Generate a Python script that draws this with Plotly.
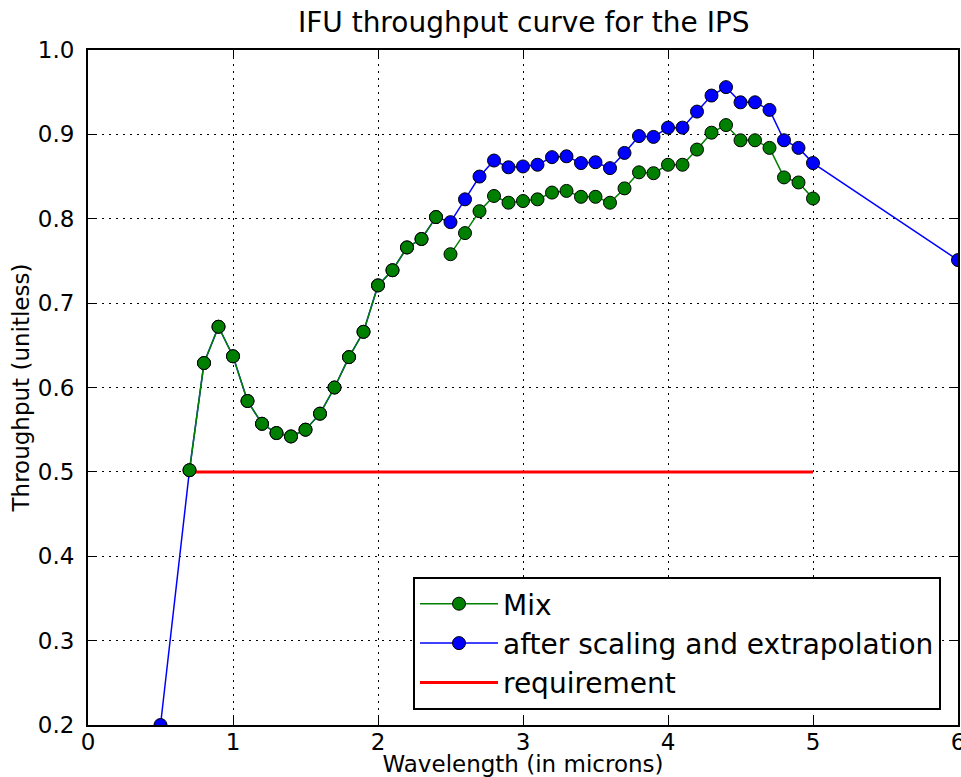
import plotly.graph_objects as go

# Mix (green): two segments separated by a gap
mix_x = [0.7, 0.8, 0.9, 1.0, 1.1, 1.2, 1.3, 1.4, 1.5, 1.6, 1.7, 1.8, 1.9, 2.0, 2.1, 2.2, 2.3, 2.4,
         None,
         2.5, 2.6, 2.7, 2.8, 2.9, 3.0, 3.1, 3.2, 3.3, 3.4, 3.5, 3.6, 3.7, 3.8, 3.9, 4.0,
         4.1, 4.2, 4.3, 4.4, 4.5, 4.6, 4.7, 4.8, 4.9, 5.0]
mix_y = [0.502, 0.629, 0.672, 0.637, 0.584, 0.557, 0.546, 0.542, 0.550, 0.569, 0.600, 0.636, 0.666,
         0.721, 0.739, 0.766, 0.776, 0.802,
         None,
         0.758, 0.783, 0.809, 0.827, 0.819, 0.821, 0.823, 0.831, 0.833, 0.826, 0.826, 0.819, 0.836,
         0.855, 0.854, 0.864, 0.864, 0.882, 0.902, 0.911, 0.893, 0.893, 0.884, 0.849, 0.843, 0.824]

# after scaling and extrapolation (blue)
ext_x = [0.5, 0.7, 0.8, 0.9, 1.0, 1.1, 1.2, 1.3, 1.4, 1.5, 1.6, 1.7, 1.8, 1.9, 2.0, 2.1, 2.2, 2.3, 2.4,
         2.5, 2.6, 2.7, 2.8, 2.9, 3.0, 3.1, 3.2, 3.3, 3.4, 3.5, 3.6, 3.7, 3.8, 3.9, 4.0,
         4.1, 4.2, 4.3, 4.4, 4.5, 4.6, 4.7, 4.8, 4.9, 5.0, 6.0]
ext_y = [0.200, 0.502, 0.629, 0.672, 0.637, 0.584, 0.557, 0.546, 0.542, 0.550, 0.569, 0.600, 0.636, 0.666,
         0.721, 0.739, 0.766, 0.776, 0.802,
         0.796, 0.823, 0.850, 0.869, 0.861, 0.862, 0.864, 0.873, 0.874, 0.866, 0.867, 0.860, 0.878,
         0.898, 0.897, 0.908, 0.908, 0.927, 0.946, 0.956, 0.938, 0.938, 0.929, 0.893, 0.884, 0.866, 0.751]

# requirement (red)
req_x = [0.7, 5.0]
req_y = [0.5, 0.5]

x_ticks = [0, 1, 2, 3, 4, 5, 6]
y_ticks = [0.2, 0.3, 0.4, 0.5, 0.6, 0.7, 0.8, 0.9, 1.0]

FONT = "DejaVu Sans"

fig = go.Figure()
fig.add_trace(go.Scatter(
    x=ext_x, y=ext_y, mode="lines+markers", name="after scaling and extrapolation",
    line=dict(color="#0000ff", width=1.5),
    marker=dict(color="#0000ff", size=13, line=dict(color="#000000", width=1)),
    legendrank=2,
))
fig.add_trace(go.Scatter(
    x=req_x, y=req_y, mode="lines", name="requirement",
    line=dict(color="#ff0000", width=3),
    legendrank=3,
))
fig.add_trace(go.Scatter(
    x=mix_x, y=mix_y, mode="lines+markers", name="Mix", connectgaps=False,
    line=dict(color="#008000", width=1.5),
    marker=dict(color="#008000", size=13, line=dict(color="#000000", width=1)),
    legendrank=1,
))

axis_common = dict(
    showline=True, linecolor="black", linewidth=2, mirror="allticks",
    ticks="inside", ticklen=8, tickwidth=1, tickcolor="black",
    showgrid=True, gridcolor="black", griddash="2px,5px", gridwidth=1,
    zeroline=False, tickfont=dict(family=FONT, size=23, color="black"),
    automargin=False, ticklabeloverflow="allow",
)

fig.update_layout(
    width=961, height=777,
    margin=dict(l=88, r=3, t=50, b=52),
    paper_bgcolor="white", plot_bgcolor="white",
    font=dict(family=FONT, color="black"),
    title=dict(text="IFU throughput curve for the IPS", x=0.545, xanchor="center",
               y=1 - 22 / 777, yanchor="middle", font=dict(family=FONT, size=28, color="black")),
    xaxis=dict(range=[0, 6], tickvals=x_ticks, ticktext=[str(v) for v in x_ticks],
               ticklabelstandoff=-5,
               title=dict(text="Wavelength (in microns)", font=dict(family=FONT, size=23), standoff=9),
               **axis_common),
    yaxis=dict(range=[0.2, 1.0], tickvals=y_ticks, ticktext=[f"{v:.1f}" for v in y_ticks],
               ticklabelstandoff=7,
               title=dict(text="Throughput (unitless)", font=dict(family=FONT, size=23), standoff=2),
               **axis_common),
    legend=dict(x=(413 - 88) / 870, y=(725 - 710) / 675, xanchor="left", yanchor="bottom",
                bgcolor="white", bordercolor="black", borderwidth=2,
                font=dict(family=FONT, size=28, color="black"),
                itemwidth=78, tracegroupgap=0),
    showlegend=True,
)

fig.write_html(
    "out.html",
    config={"responsive": False, "displayModeBar": False},
    post_script="document.body.style.margin='0';document.body.style.overflow='hidden';",
)
